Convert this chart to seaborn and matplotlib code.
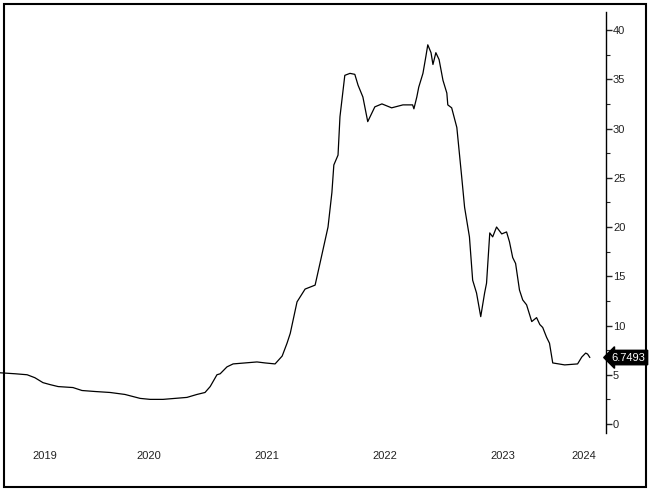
import pandas as pd
import seaborn as sns
import matplotlib.pyplot as plt
from matplotlib.patches import Rectangle
from matplotlib.ticker import MultipleLocator

# Serie (data, valor)
datas = [
    '2019-03-28', '2019-05-14', '2019-06-20', '2019-07-14', '2019-08-08', '2019-08-30',
    '2019-09-24', '2019-11-09', '2019-12-07', '2020-01-16', '2020-03-03', '2020-04-18',
    '2020-06-04', '2020-07-05', '2020-08-14', '2020-09-20', '2020-10-27', '2020-11-27',
    '2020-12-22', '2021-01-07', '2021-01-28', '2021-02-07', '2021-02-28', '2021-03-19',
    '2021-04-25', '2021-06-01', '2021-06-26', '2021-07-27', '2021-08-18', '2021-09-02',
    '2021-09-12', '2021-10-03', '2021-10-28', '2021-11-28', '2021-12-13', '2022-01-07',
    '2022-01-19', '2022-01-25', '2022-02-07', '2022-02-13', '2022-02-28', '2022-03-16',
    '2022-03-31', '2022-04-10', '2022-04-25', '2022-05-10', '2022-06-01', '2022-06-23',
    '2022-07-23', '2022-08-27', '2022-09-26', '2022-09-30', '2022-10-09', '2022-10-15',
    '2022-10-28', '2022-11-06', '2022-11-12', '2022-11-22', '2022-11-28', '2022-12-07',
    '2022-12-17', '2022-12-29', '2023-01-10', '2023-01-13', '2023-01-25', '2023-02-10',
    '2023-02-25', '2023-03-06', '2023-03-21', '2023-03-31', '2023-04-12', '2023-04-25',
    '2023-05-07', '2023-05-13', '2023-05-23', '2023-06-01', '2023-06-13', '2023-06-29',
    '2023-07-14', '2023-07-23', '2023-08-02', '2023-08-11', '2023-08-23', '2023-09-02',
    '2023-09-14', '2023-09-30', '2023-10-15', '2023-10-25', '2023-11-03', '2023-11-15',
    '2023-11-24', '2023-12-04', '2024-01-10', '2024-02-19', '2024-03-03', '2024-03-15',
    '2024-03-21', '2024-03-28',
]
valores = [
    5.2, 5.1, 5.0, 4.7, 4.2, 4.0,
    3.8, 3.7, 3.4, 3.3, 3.2, 3.0,
    2.6, 2.5, 2.5, 2.6, 2.7, 3.0,
    3.2, 3.8, 5.0, 5.1, 5.8, 6.1,
    6.2, 6.3, 6.2, 6.1, 6.9, 8.2,
    9.2, 12.4, 13.7, 14.1, 16.3, 20.0,
    23.5, 26.3, 27.3, 31.2, 35.4, 35.6,
    35.5, 34.4, 33.2, 30.7, 32.2, 32.5,
    32.1, 32.4, 32.4, 32.0, 33.2, 34.2,
    35.6, 37.3, 38.5, 37.7, 36.5, 37.7,
    37.0, 34.9, 33.6, 32.4, 32.1, 30.1,
    25.1, 22.0, 19.0, 14.6, 13.3, 10.9,
    13.3, 14.3, 19.4, 19.0, 20.0, 19.3,
    19.5, 18.5, 16.9, 16.3, 13.6, 12.6,
    12.1, 10.4, 10.8, 10.1, 9.8, 8.8,
    8.2, 6.2, 6.0, 6.1, 6.8, 7.2,
    7.1, 6.7493,
]
anos = [2019, 2020, 2021, 2022, 2023, 2024]
yticks = [0, 5, 10, 15, 20, 25, 30, 35, 40]

df = pd.DataFrame({'data': pd.to_datetime(datas), 'valor': valores})

sns.set_style('white')
plt.rcParams['font.family'] = ['Liberation Sans', 'DejaVu Sans']

fig = plt.figure(figsize=(6.5, 4.92), dpi=100)
ax = fig.add_axes([0.0, 0.12, 606 / 650, 0.8556])

sns.lineplot(data=df, x='data', y='valor', color='black', linewidth=0.9, ax=ax)

x0 = df['data'].iloc[0]
x1 = df['data'].iloc[-1] + pd.Timedelta(days=50)
ax.set_xlim(x0, x1)
ax.set_ylim(-0.91, 41.83)

# rotulos de ano no meio do trecho visivel de cada ano
pos, rot = [], []
for a in anos:
    ini = max(pd.Timestamp(f'{a}-01-01'), x0)
    fim = min(pd.Timestamp(f'{a + 1}-01-01'), x1)
    pos.append(ini + (fim - ini) / 2)
    rot.append(str(a))
ax.set_xticks(pos)
ax.set_xticklabels(rot)
ax.tick_params(axis='x', length=0, pad=13, labelsize=8, labelcolor='#222222')

ax.yaxis.tick_right()
ax.set_yticks(yticks)
ax.yaxis.set_minor_locator(MultipleLocator(2.5))
ax.tick_params(axis='y', which='major', direction='out', length=4, width=1,
               labelsize=8, labelcolor='#222222', pad=1)
ax.tick_params(axis='y', which='minor', direction='out', length=3, width=0.8)
ax.set_xlabel('')
ax.set_ylabel('')

for s in ['top', 'left', 'bottom']:
    ax.spines[s].set_visible(False)
ax.spines['right'].set_color('black')
ax.spines['right'].set_linewidth(1)

ultimo = df['valor'].iloc[-1]
ax.annotate(f'{ultimo:.4f}', xy=(1, ultimo), xycoords=('axes fraction', 'data'),
            xytext=(4, 0), textcoords='offset points', va='center', ha='left',
            color='white', fontsize=8,
            bbox=dict(boxstyle='larrow,pad=0.2', fc='black', ec='black'))

fig.patches.append(Rectangle((4 / 650, 5 / 492), 642 / 650, 483 / 492,
                             transform=fig.transFigure, fill=False,
                             ec='black', lw=1.5))

fig.savefig('out.png', dpi=100)
